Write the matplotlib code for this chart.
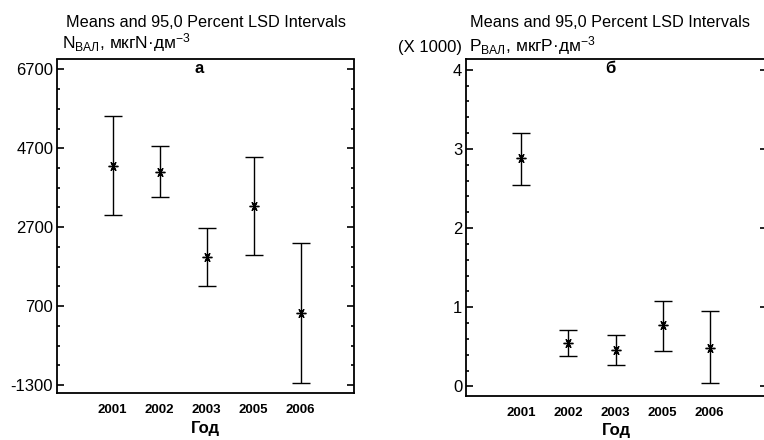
import matplotlib
matplotlib.use('Agg')
import matplotlib.pyplot as plt
import numpy as np
from matplotlib.ticker import MultipleLocator, FixedLocator

plt.rcParams['font.family'] = ['Liberation Sans', 'DejaVu Sans']
plt.rcParams['mathtext.fontset'] = 'custom'
plt.rcParams['mathtext.rm'] = 'Liberation Sans'
plt.rcParams['mathtext.it'] = 'Liberation Sans'
plt.rcParams['axes.unicode_minus'] = False

years = ['2001', '2002', '2003', '2005', '2006']

# N total, mkgN/dm3: mean, lower, upper LSD limits
n_mean = [4250, 4100, 1950, 3240, 515]
n_low = [3010, 3460, 1215, 1985, -1240]
n_high = [5510, 4750, 2680, 4480, 2300]

# P total, x1000 mkgP/dm3
p_mean = [2.88, 0.55, 0.46, 0.77, 0.49]
p_low = [2.55, 0.38, 0.27, 0.45, 0.045]
p_high = [3.20, 0.71, 0.645, 1.085, 0.95]

fig = plt.figure(figsize=(7.64, 4.40), dpi=100)
W, H = 764.0, 440.0

ax1 = fig.add_axes([56.7 / W, 1 - 393.3 / H, (354.3 - 56.7) / W, (393.3 - 59.5) / H])
ax2 = fig.add_axes([465.7 / W, 1 - 395.5 / H, (767 - 465.7) / W, (395.5 - 59.5) / H])


def draw(ax, mean, low, high, ylim, major, minor, xlim, letter):
    x = np.arange(len(years))
    mean = np.array(mean)
    err = [mean - np.array(low), np.array(high) - mean]
    ax.errorbar(x, mean, yerr=err, fmt='none', ecolor='black', elinewidth=1.0,
                capsize=6.5, capthick=1.0)
    ax.plot(x, mean, linestyle='none', marker=(6, 2, 90), markersize=7,
            color='black', markeredgewidth=1.0)
    ax.set_xlim(*xlim)
    ax.set_ylim(*ylim)
    ax.set_xticks(x)
    ax.set_xticklabels(years, fontsize=9.5, fontweight='bold')
    ax.yaxis.set_major_locator(MultipleLocator(major))
    ax.yaxis.set_minor_locator(MultipleLocator(minor))
    ax.tick_params(axis='y', which='both', direction='in', left=True, right=True,
                   labelsize=12, pad=2.5)
    ax.tick_params(axis='y', which='major', length=5, width=1.2)
    ax.tick_params(axis='y', which='minor', length=2.5, width=1.2)
    ax.tick_params(axis='x', length=0, pad=8)
    for s in ax.spines.values():
        s.set_linewidth(1.3)
    ax.set_xlabel('Год', fontsize=12, fontweight='bold', labelpad=3)
    ax.text(0.48, 0.995, letter, transform=ax.transAxes, ha='center', va='top',
            fontsize=12, fontweight='bold')


draw(ax1, n_mean, n_low, n_high, (-1510, 6950), 2000, 500, (-1.19, 5.14), 'а')
ax1.set_yticks([-1300, 700, 2700, 4700, 6700])
ax1.yaxis.set_minor_locator(FixedLocator(np.arange(-1300, 6701, 500)))
draw(ax2, p_mean, p_low, p_high, (-0.115, 4.13), 1, 0.2, (-1.185, 5.22), 'б')

title = 'Means and 95,0 Percent LSD Intervals'
fig.text(205.5 / W, 1 - 27 / H, title, ha='center', va='baseline', fontsize=11.7)
fig.text(610 / W, 1 - 27 / H, title, ha='center', va='baseline', fontsize=11.7)
fig.text(62 / W, 1 - 48.5 / H, r'N$_{\mathrm{ВАЛ}}$, мкгN·дм$^{\mathrm{-3}}$',
         ha='left', va='baseline', fontsize=12.5)
fig.text(469 / W, 1 - 51 / H, r'P$_{\mathrm{ВАЛ}}$, мкгP·дм$^{\mathrm{-3}}$',
         ha='left', va='baseline', fontsize=12.5)
fig.text(462 / W, 1 - 52 / H, '(X 1000)', ha='right', va='baseline', fontsize=12)

fig.savefig('out.png', dpi=100)
